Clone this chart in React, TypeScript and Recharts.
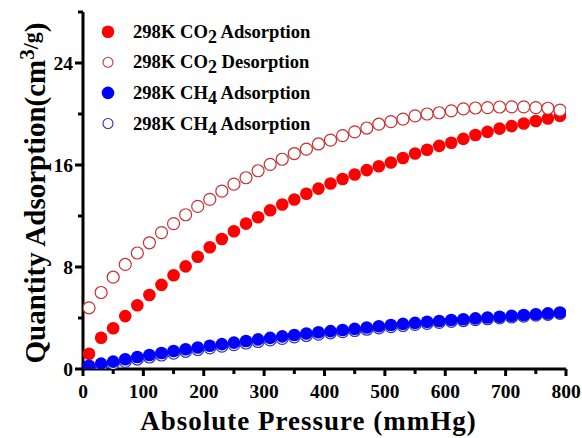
import { ScatterChart, Scatter, XAxis, YAxis, Legend } from "recharts";

// pressure points (mmHg), shared by all four isotherms
const pressure = [
  10, 30, 50, 70, 90, 110, 130, 150, 170, 190, 210, 230, 250, 270, 290, 310, 330, 350, 370, 390,
  410, 430, 450, 470, 490, 510, 530, 550, 570, 590, 610, 630, 650, 670, 690, 710, 730, 750, 770, 790,
];

const co2Ads = [
  1.2, 2.45, 3.2, 4.15, 5.0, 5.8, 6.6, 7.35, 8.05, 8.8, 9.55, 10.2, 10.8, 11.4, 11.9, 12.45, 12.9, 13.3, 13.75, 14.15,
  14.55, 14.9, 15.25, 15.6, 15.9, 16.2, 16.55, 16.9, 17.2, 17.5, 17.75, 18.05, 18.35, 18.6, 18.85, 19.05, 19.25, 19.45, 19.65, 19.85,
];

const co2Des = [
  4.8, 6.0, 7.2, 8.2, 9.1, 9.9, 10.7, 11.4, 12.1, 12.75, 13.3, 13.95, 14.5, 15.0, 15.55, 16.05, 16.45, 16.9, 17.25, 17.65,
  17.95, 18.3, 18.6, 18.9, 19.2, 19.4, 19.6, 19.85, 20.0, 20.1, 20.25, 20.4, 20.47, 20.5, 20.55, 20.56, 20.56, 20.5, 20.45, 20.3,
];

const ch4Ads = [
  0.25, 0.42, 0.58, 0.76, 0.94, 1.1, 1.26, 1.41, 1.55, 1.69, 1.82, 1.95, 2.07, 2.2, 2.32, 2.44, 2.56, 2.67, 2.78, 2.88,
  2.97, 3.06, 3.15, 3.25, 3.35, 3.45, 3.54, 3.62, 3.7, 3.77, 3.84, 3.9, 3.97, 4.04, 4.1, 4.17, 4.24, 4.3, 4.36, 4.43,
];

const ch4Open = [
  0.12, 0.28, 0.43, 0.6, 0.78, 0.94, 1.1, 1.25, 1.39, 1.53, 1.66, 1.79, 1.91, 2.04, 2.16, 2.28, 2.4, 2.52, 2.63, 2.74,
  2.84, 2.93, 3.02, 3.12, 3.22, 3.32, 3.41, 3.5, 3.58, 3.66, 3.73, 3.8, 3.87, 3.94, 4.01, 4.08, 4.15, 4.22, 4.29, 4.37,
];

const xTicks = [0, 50, 100, 150, 200, 250, 300, 350, 400, 450, 500, 550, 600, 650, 700, 750, 800];
const yTicks = [0, 4, 8, 12, 16, 20, 24, 28];

const FONT = "'Liberation Serif', 'DejaVu Serif', serif";
const RED = "#ff0000";
const RED_OPEN = "#c83030";
const BLUE = "#0000ff";
const BLUE_OPEN = "#3030b0";

const textStyle = { fontFamily: FONT, fontWeight: 700 };

const toPoints = (ys: number[]) => pressure.map((p, i) => ({ p, v: ys[i] }));

const filled = (color: string) => (props: any) =>
  <circle cx={props.cx} cy={props.cy} r={6.3} fill={color} />;
const open = (color: string) => (props: any) =>
  <circle cx={props.cx} cy={props.cy} r={6} fill="#fff" stroke={color} strokeWidth={1.2} />;

function XTick(props: any) {
  const { x, y, payload } = props;
  const major = payload.value % 100 === 0;
  return (
    <g>
      <line x1={x} x2={x} y1={y} y2={y + (major ? 7 : 5)} stroke="#000" strokeWidth={3} />
      {major && (
        <text x={x} y={y + 29} textAnchor="middle" style={{ ...textStyle, fontSize: 19.5 }} fill="#000">
          {payload.value}
        </text>
      )}
    </g>
  );
}

function YTick(props: any) {
  const { x, y, payload } = props;
  const major = payload.value % 8 === 0;
  return (
    <g>
      <line x1={x} x2={x - (major ? 8 : 5)} y1={y} y2={y} stroke="#000" strokeWidth={3} />
      {major && (
        <text x={x - 10} y={y + 6.5} textAnchor="end" style={{ ...textStyle, fontSize: 19.5 }} fill="#000">
          {payload.value}
        </text>
      )}
    </g>
  );
}

const legendItems = [
  { gas: "CO", sub: "2", kind: "Adsorption", color: RED, filled: true },
  { gas: "CO", sub: "2", kind: "Desorption", color: RED_OPEN, filled: false },
  { gas: "CH", sub: "4", kind: "Adsorption", color: BLUE, filled: true },
  { gas: "CH", sub: "4", kind: "Adsorption", color: BLUE_OPEN, filled: false },
];

function LegendBox() {
  return (
    <svg width={240} height={125}>
      {legendItems.map((d, i) => {
        const cy = 16.7 + i * 30.6;
        return (
          <g key={i}>
            {d.filled ? (
              <circle cx={18} cy={cy} r={6.3} fill={d.color} />
            ) : (
              <circle cx={18} cy={cy} r={5} fill="#fff" stroke={d.color} strokeWidth={1.1} />
            )}
            <text x={43} y={cy + 6} style={{ ...textStyle, fontSize: 18.6 }} fill="#000">
              298K {d.gas}
              <tspan dy={5} style={{ fontSize: 18 }}>{d.sub}</tspan>
              <tspan dy={-5}> {d.kind}</tspan>
            </text>
          </g>
        );
      })}
    </svg>
  );
}

export default function App() {
  return (
    <div style={{ position: "absolute", left: 0, top: 0, background: "#fff" }}>
      <ScatterChart width={582} height={438} margin={{ top: 12, right: 16, bottom: 0, left: 0 }}>
        <XAxis
          xAxisId="x"
          dataKey="p"
          type="number"
          domain={[0, 800]}
          ticks={xTicks}
          interval={0}
          allowDataOverflow
          height={69}
          tickSize={0}
          tickMargin={0}
          tickLine={false}
          axisLine={{ stroke: "#000", strokeWidth: 3 }}
          tick={<XTick />}
          label={{
            content: (p: any) => (
              <text
                x={p.viewBox.x + p.viewBox.width / 2 - 16}
                y={p.viewBox.y + 61}
                textAnchor="middle"
                style={{ ...textStyle, fontSize: 27, letterSpacing: 1 }}
                fill="#000"
              >
                Absolute Pressure (mmHg)
              </text>
            ),
          }}
        />
        <XAxis
          xAxisId="top"
          orientation="top"
          type="number"
          domain={[0, 800]}
          height={0}
          tick={false}
          tickLine={false}
          axisLine={{ stroke: "#000", strokeWidth: 3 }}
        />
        <YAxis
          yAxisId="y"
          dataKey="v"
          type="number"
          domain={[0, 28]}
          ticks={yTicks}
          interval={0}
          allowDataOverflow
          width={83}
          tickSize={0}
          tickMargin={0}
          tickLine={false}
          axisLine={{ stroke: "#000", strokeWidth: 3 }}
          tick={<YTick />}
          label={{
            content: (p: any) => {
              const cx = 45;
              const cy = p.viewBox.y + 181;
              return (
                <text
                  x={cx}
                  y={cy}
                  transform={`rotate(-90 ${cx} ${cy})`}
                  textAnchor="middle"
                  style={{ ...textStyle, fontSize: 29 }}
                  fill="#000"
                >
                  Quantity Adsorption(cm
                  <tspan dy={-11} style={{ fontSize: 21 }}>3</tspan>
                  <tspan dy={4} style={{ fontSize: 22 }}>/g</tspan>
                  <tspan dy={7}>)</tspan>
                </text>
              );
            },
          }}
        />
        <YAxis
          yAxisId="right"
          orientation="right"
          type="number"
          domain={[0, 28]}
          width={0}
          tick={false}
          tickLine={false}
          axisLine={{ stroke: "#000", strokeWidth: 3 }}
        />
        <Legend
          layout="horizontal"
          verticalAlign="middle"
          align="center"
          wrapperStyle={{ left: 90, top: 15, width: 240, height: 125 }}
          content={() => <LegendBox />}
        />
        <Scatter
          name="298K CO2 Adsorption"
          xAxisId="x"
          yAxisId="y"
          data={toPoints(co2Ads)}
          shape={filled(RED)}
          isAnimationActive={false}
        />
        <Scatter
          name="298K CO2 Desorption"
          xAxisId="x"
          yAxisId="y"
          data={toPoints(co2Des)}
          shape={open(RED_OPEN)}
          isAnimationActive={false}
        />
        <Scatter
          name="298K CH4 Adsorption (open)"
          xAxisId="x"
          yAxisId="y"
          data={toPoints(ch4Open)}
          shape={open(BLUE_OPEN)}
          isAnimationActive={false}
        />
        <Scatter
          name="298K CH4 Adsorption"
          xAxisId="x"
          yAxisId="y"
          data={toPoints(ch4Ads)}
          shape={filled(BLUE)}
          isAnimationActive={false}
        />
      </ScatterChart>
    </div>
  );
}
